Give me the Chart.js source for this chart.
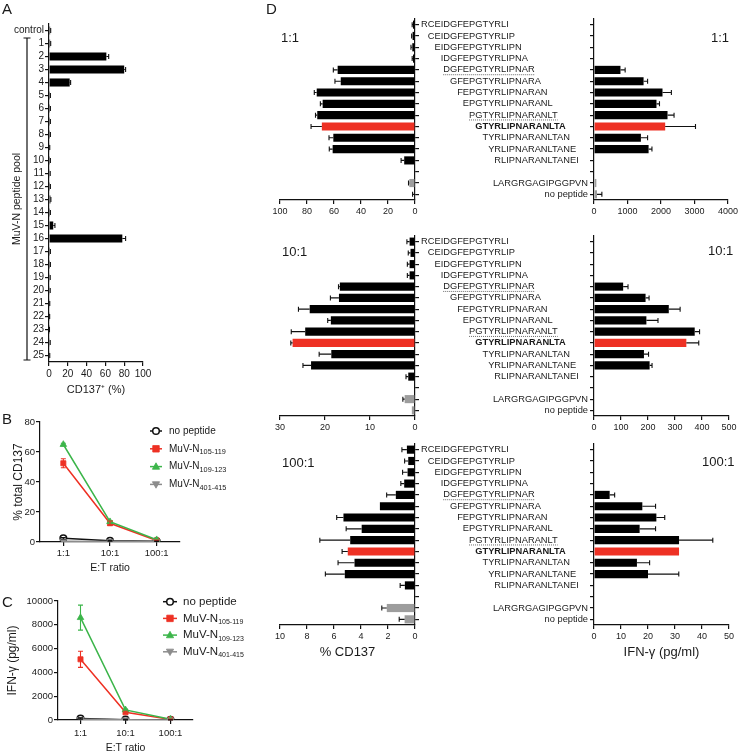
<!DOCTYPE html>
<html>
<head>
<meta charset="utf-8">
<title>MuV-N epitope mapping</title>
<script src="https://cdn.jsdelivr.net/npm/chart.js@4.4.1/dist/chart.umd.min.js"></script>
<style>
  body { margin: 0; background: #fff; }
  #page { position: relative; width: 740px; height: 754px; overflow: hidden; font-family: 'Liberation Sans', Arial, sans-serif; color: #1a1a1a; }
  #page canvas { position: absolute; }
  .tag { position: absolute; line-height: 1; white-space: nowrap; z-index: 2; }
  .panel { font-size: 15px; }
  .ratio { font-size: 13px; }
</style>
</head>
<body>
<div id="page">
  <canvas id="chartA" width="170" height="398" style="left:0;top:0"></canvas>
  <canvas id="chartB" width="250" height="160" style="left:0;top:414px"></canvas>
  <canvas id="chartC" width="250" height="162" style="left:0;top:592px"></canvas>
  <canvas id="d1Left" width="158" height="217" style="left:262px;top:5px"></canvas>
  <canvas id="d1Right" width="323" height="217" style="left:417px;top:5px"></canvas>
  <canvas id="d10Left" width="158" height="216" style="left:262px;top:222px"></canvas>
  <canvas id="d10Right" width="323" height="216" style="left:417px;top:222px"></canvas>
  <canvas id="d100Left" width="158" height="233" style="left:262px;top:430px"></canvas>
  <canvas id="d100Right" width="323" height="233" style="left:417px;top:430px"></canvas>

  <div class="tag panel" style="left:2px;top:1px">A</div>
  <div class="tag panel" style="left:2px;top:411px">B</div>
  <div class="tag panel" style="left:2px;top:594px">C</div>
  <div class="tag panel" style="left:266px;top:1px">D</div>
  <div class="tag ratio" style="left:281px;top:31px">1:1</div>
  <div class="tag ratio" style="left:711px;top:31px">1:1</div>
  <div class="tag ratio" style="left:282px;top:245px">10:1</div>
  <div class="tag ratio" style="left:708px;top:244px">10:1</div>
  <div class="tag ratio" style="left:282px;top:456px">100:1</div>
  <div class="tag ratio" style="left:702px;top:455px">100:1</div>
</div>

<script>
// ---- Panel A: peptide pools ----
const poolLabels = ['control', '1', '2', '3', '4', '5', '6', '7', '8', '9', '10', '11', '12', '13',
  '14', '15', '16', '17', '18', '19', '20', '21', '22', '23', '24', '25'];
const poolCD137 = [1.2, 1.2, 61, 80, 22, 1.0, 1.0, 1.0, 1.0, 0.5, 1.0, 0.8, 1.0, 1.5,
  1.0, 4.5, 78, 1.0, 1.0, 0.8, 0.8, 0.5, 0.4, 0.3, 0.8, 0.5];
const poolSem = [0.6, 0.6, 2.5, 1.5, 1.0, 0.5, 0.5, 0.5, 0.5, 0.3, 0.5, 0.5, 0.5, 0.5,
  0.5, 1.8, 3.5, 0.5, 0.5, 0.5, 0.5, 0.3, 0.3, 0.2, 0.5, 0.3];

// ---- Panels B and C: E:T titration ----
const etRatios = ['1:1', '10:1', '100:1'];
const seriesNames = ['no peptide', 'MuV-N', 'MuV-N', 'MuV-N'];
const seriesSubs = ['', '105-119', '109-123', '401-415'];

const cd137NoPep = [2.5, 0.8, 0.5];
const cd137NoPepSem = [0.5, 0.3, 0.2];
const cd137N105 = [52.5, 12.5, 1.0];
const cd137N105Sem = [3.0, 1.5, 0.3];
const cd137N109 = [65, 13.5, 1.5];
const cd137N109Sem = [0.8, 0.8, 0.3];
const cd137N401 = [0.5, 0.4, 0.3];

const ifnNoPep = [120, 30, 15];
const ifnNoPepSem = [60, 20, 10];
const ifnN105 = [5100, 650, 50];
const ifnN105Sem = [680, 80, 20];
const ifnN109 = [8600, 850, 60];
const ifnN109Sem = [1050, 60, 20];
const ifnN401 = [60, 20, 10];

// ---- Panel D: overlapping 15-mers ----
const fullSequence = 'RCEIDGFEPGTYRLIPNARANLTANEI';
const peptides = ['RCEIDGFEPGTYRLI', 'CEIDGFEPGTYRLIP', 'EIDGFEPGTYRLIPN', 'IDGFEPGTYRLIPNA',
  'DGFEPGTYRLIPNAR', 'GFEPGTYRLIPNARA', 'FEPGTYRLIPNARAN', 'EPGTYRLIPNARANL',
  'PGTYRLIPNARANLT', 'GTYRLIPNARANLTA', 'TYRLIPNARANLTAN', 'YRLIPNARANLTANE',
  'RLIPNARANLTANEI', '', 'LARGRGAGIPGGPVN', 'no peptide'];
const highlightPeptide = 'GTYRLIPNARANLTA';
const dottedPeptides = ['DGFEPGTYRLIPNAR', 'PGTYRLIPNARANLT'];
const controlPeptides = ['LARGRGAGIPGGPVN', 'no peptide'];

const cd137At1 = [1.5, 1.8, 2.0, 1.5, 57.3, 55, 72.8, 68.4, 72.4, 69, 60.5, 61, 8, null, 4.2, 0.4];
const cd137At1Sem = [0.6, 0.7, 1.0, 0.6, 3.2, 4.3, 1.8, 1.7, 1.3, 8, 3.2, 2.5, 2.3, null, 0.6, 1.4];
const ifnAt1 = [0, 0, 0, 0, 790, 1480, 2045, 1865, 2195, 2125, 1400, 1630, 0, null, 70, 90];
const ifnAt1Sem = [0, 0, 0, 0, 140, 120, 265, 90, 195, 905, 200, 100, 0, null, 0, 145];

const cd137At10 = [1.2, 1.0, 1.2, 1.2, 16.7, 16.9, 23.4, 18.7, 24.4, 27.2, 18.6, 23.1, 1.5, null, 2.3, 0.7];
const cd137At10Sem = [0.6, 0.5, 0.5, 0.5, 0.3, 1.9, 2.5, 0.7, 3.1, 0.4, 2.7, 1.8, 0.5, null, 0.4, 0];
const ifnAt10 = [0, 0, 0, 0, 108, 191, 277, 194, 373, 342, 185, 206, 0, null, 0, 0];
const ifnAt10Sem = [0, 0, 0, 0, 18, 13, 42, 43, 18, 46, 17, 9, 0, null, 0, 0];

const cd137At100 = [0.6, 0.5, 0.55, 0.8, 1.42, 2.6, 5.3, 3.95, 4.8, 4.98, 4.48, 5.2, 0.75, null, 2.09, 0.77];
const cd137At100Sem = [0.37, 0.27, 0.37, 0.25, 0.68, 0, 0.5, 1.15, 2.25, 0.42, 1.22, 1.44, 0.35, null, 0.37, 0.4];
const ifnAt100 = [0, 0, 0, 0, 5.8, 17.9, 23.1, 16.9, 31.5, 31.5, 15.9, 20, 0, null, 0, 0];
const ifnAt100Sem = [0, 0, 0, 0, 1.85, 4.9, 3.1, 5.9, 12.5, 0, 4.7, 11.4, 0, null, 0, 0];

// ---- styling ----
const FONT = "'Liberation Sans', Arial, sans-serif";
const INK = '#111';
const RED = '#ee3124';
const GREEN = '#3cb54a';
const GREY = '#8c8c8c';
const BAR_GREY = '#9d9d9d';

Chart.defaults.font.family = FONT;
Chart.defaults.color = '#1a1a1a';
Chart.defaults.animation = false;
Chart.defaults.plugins.legend.display = false;
Chart.defaults.plugins.tooltip.enabled = false;

function axis(o) {
  const a = {
    type: o.type || 'linear',
    border: { display: true, color: INK, width: 1.2 },
    grid: { drawOnChartArea: false, drawTicks: true, tickLength: 4, color: INK, lineWidth: 1.2, offset: false },
    ticks: {
      display: o.showTicks !== false,
      autoSkip: false,
      maxRotation: 0,
      padding: o.pad !== undefined ? o.pad : 2,
      font: { size: o.size || 10 },
      color: '#1a1a1a'
    },
    title: { display: false }
  };
  if (a.type === 'linear') {
    a.min = o.min;
    a.max = o.max;
    a.ticks.stepSize = o.step;
    a.ticks.format = { useGrouping: false };
  } else {
    a.offset = true;
  }
  if (o.position) a.position = o.position;
  if (o.reverse) a.reverse = true;
  if (o.title) {
    a.title = {
      display: true,
      text: o.title,
      font: { size: o.titleSize || 11 },
      color: '#1a1a1a',
      padding: o.titlePad || { top: 0, bottom: 0 }
    };
  }
  if (o.fit) a.afterFit = o.fit;
  return a;
}

// one-sided (bars) or two-sided (points) error bars, through the chart scales
const errorBars = {
  id: 'errorBars',
  afterDatasetsDraw(chart) {
    const ctx = chart.ctx;
    const horiz = chart.options.indexAxis === 'y';
    const vScale = horiz ? chart.scales.x : chart.scales.y;
    chart.data.datasets.forEach((ds, di) => {
      if (!ds.errors) return;
      const meta = chart.getDatasetMeta(di);
      ctx.save();
      ctx.strokeStyle = ds.errorColor || INK;
      ctx.lineWidth = 1.1;
      ds.errors.forEach((e, i) => {
        const v = ds.data[i];
        if (v == null || !e) return;
        const el = meta.data[i];
        const both = !!ds.errorBoth;
        const p1 = vScale.getPixelForValue(both ? v - e : v);
        const p2 = vScale.getPixelForValue(v + e);
        const cap = 2.5;
        ctx.beginPath();
        if (horiz) {
          ctx.moveTo(p1, el.y); ctx.lineTo(p2, el.y);
          ctx.moveTo(p2, el.y - cap); ctx.lineTo(p2, el.y + cap);
        } else {
          ctx.moveTo(el.x, p1); ctx.lineTo(el.x, p2);
          ctx.moveTo(el.x - cap, p2); ctx.lineTo(el.x + cap, p2);
          if (both) { ctx.moveTo(el.x - cap, p1); ctx.lineTo(el.x + cap, p1); }
        }
        ctx.stroke();
      });
      ctx.restore();
    });
  }
};

// bracket + rotated title for the pool axis of panel A
const poolBracket = {
  id: 'poolBracket',
  afterDraw(chart) {
    const { ctx, scales: { y } } = chart;
    const top = y.getPixelForValue(1) - 5.5;
    const bot = y.getPixelForValue(poolLabels.length - 1) + 4.5;
    const x = 27;
    ctx.save();
    ctx.strokeStyle = INK;
    ctx.lineWidth = 1.2;
    ctx.beginPath();
    ctx.moveTo(x, top); ctx.lineTo(x, bot);
    ctx.moveTo(x - 3.5, top); ctx.lineTo(x + 3.5, top);
    ctx.moveTo(x - 3.5, bot); ctx.lineTo(x + 3.5, bot);
    ctx.stroke();
    ctx.translate(17, (top + bot) / 2);
    ctx.rotate(-Math.PI / 2);
    ctx.font = `10.5px ${FONT}`;
    ctx.fillStyle = '#1a1a1a';
    ctx.textAlign = 'center';
    ctx.textBaseline = 'middle';
    ctx.fillText('MuV-N peptide pool', 0, 0);
    ctx.restore();
  }
};

// legend with subscripts, markers copied from the datasets
function drawMarker(ctx, style, x, y, r) {
  ctx.beginPath();
  if (style === 'circle') {
    ctx.arc(x, y, r, 0, Math.PI * 2);
  } else if (style === 'rect') {
    ctx.rect(x - r * 0.9, y - r * 0.9, r * 1.8, r * 1.8);
  } else if (style === 'triangle') {
    ctx.moveTo(x, y - r); ctx.lineTo(x + r * 0.95, y + r * 0.7); ctx.lineTo(x - r * 0.95, y + r * 0.7); ctx.closePath();
  } else {
    ctx.moveTo(x, y + r); ctx.lineTo(x + r * 0.95, y - r * 0.7); ctx.lineTo(x - r * 0.95, y - r * 0.7); ctx.closePath();
  }
  ctx.fill();
  ctx.stroke();
}

const subLegend = {
  id: 'subLegend',
  afterDraw(chart, args, opts) {
    const ctx = chart.ctx;
    ctx.save();
    opts.order.forEach((di, row) => {
      const ds = chart.data.datasets[di];
      const y = opts.y + row * opts.dy;
      ctx.strokeStyle = ds.borderColor;
      ctx.lineWidth = 1.5;
      ctx.beginPath();
      ctx.moveTo(opts.x, y); ctx.lineTo(opts.x + opts.len, y);
      ctx.stroke();
      ctx.fillStyle = ds.pointBackgroundColor;
      ctx.lineWidth = ds.pointBorderWidth;
      drawMarker(ctx, ds.legendMarker, opts.x + opts.len / 2, y, ds.pointRadius);
      ctx.fillStyle = '#1a1a1a';
      ctx.textBaseline = 'middle';
      ctx.textAlign = 'left';
      ctx.font = `${opts.size}px ${FONT}`;
      const tx = opts.x + opts.len + opts.gap;
      ctx.fillText(seriesNames[row], tx, y);
      if (seriesSubs[row]) {
        const w = ctx.measureText(seriesNames[row]).width;
        ctx.font = `${opts.subSize}px ${FONT}`;
        ctx.fillText(seriesSubs[row], tx + w, y + opts.size * 0.32);
      }
    });
    ctx.restore();
  }
};

// aligned peptide names between the two halves of panel D
const LABEL_X0 = 4;
const peptideLabels = {
  id: 'peptideLabels',
  afterDraw(chart) {
    const { ctx, chartArea, scales: { y } } = chart;
    const reg = `9.3px ${FONT}`;
    const bold = `bold 9.3px ${FONT}`;
    ctx.save();
    ctx.textBaseline = 'middle';
    ctx.fillStyle = '#1a1a1a';
    peptides.forEach((p, i) => {
      if (!p) return;
      const yy = y.getPixelForValue(i);
      ctx.font = reg;
      let x;
      if (controlPeptides.includes(p)) {
        ctx.textAlign = 'right';
        x = chartArea.left - 6;
      } else {
        ctx.textAlign = 'left';
        x = LABEL_X0 + ctx.measureText(fullSequence.slice(0, fullSequence.indexOf(p))).width;
      }
      if (p === highlightPeptide) ctx.font = bold;
      ctx.fillText(p, x, yy);
      if (dottedPeptides.includes(p)) {
        const w = ctx.measureText(p).width;
        ctx.strokeStyle = '#444';
        ctx.lineWidth = 0.8;
        ctx.setLineDash([1, 1]);
        ctx.beginPath();
        ctx.moveTo(x, yy + 4.8); ctx.lineTo(x + w, yy + 4.8);
        ctx.stroke();
        ctx.setLineDash([]);
      }
    });
    ctx.restore();
  }
};

function barColour(p) {
  if (p === highlightPeptide) return RED;
  if (controlPeptides.includes(p)) return BAR_GREY;
  return '#000';
}

// ---- Panel A ----
new Chart(document.getElementById('chartA'), {
  type: 'bar',
  data: {
    labels: poolLabels,
    datasets: [{ data: poolCD137, errors: poolSem, backgroundColor: '#000', barPercentage: 0.62, categoryPercentage: 1 }]
  },
  options: {
    indexAxis: 'y',
    responsive: false,
    layout: { padding: { top: 24, right: 27, left: 0, bottom: 0 } },
    scales: {
      x: axis({ min: 0, max: 100, step: 20, size: 10, title: 'CD137\u207A (%)', titleSize: 11,
        titlePad: { top: 0, bottom: 1.5 }, fit: s => { s.height = 36; } }),
      y: axis({ type: 'category', size: 10, pad: 1, fit: s => { s.width = 49; } })
    }
  },
  plugins: [errorBars, poolBracket]
});

// ---- Panels B and C ----
function titrationChart(id, sets, yMax, yStep, yTitle, yTitlePad, yWidth, pad, xHeight, xPad, legend) {
  const styles = [
    { color: INK, fill: '#fff', marker: 'circle', pointStyle: 'circle', rot: 0, r: 3.3 },
    { color: RED, fill: RED, marker: 'rect', pointStyle: 'rect', rot: 0, r: 3.6 },
    { color: GREEN, fill: GREEN, marker: 'triangle', pointStyle: 'triangle', rot: 0, r: 3.8 },
    { color: GREY, fill: GREY, marker: 'down', pointStyle: 'triangle', rot: 180, r: 3.8 }
  ];
  const datasets = sets.map((s, k) => ({
    data: s.values,
    errors: s.sem,
    errorBoth: true,
    errorColor: styles[k].color,
    borderColor: styles[k].color,
    borderWidth: 1.5,
    pointBackgroundColor: styles[k].fill,
    pointBorderColor: styles[k].color,
    pointBorderWidth: k === 0 ? 1.5 : 0.8,
    pointStyle: styles[k].pointStyle,
    pointRotation: styles[k].rot,
    pointRadius: styles[k].r,
    legendMarker: styles[k].marker,
    tension: 0
  }));
  // grey drawn first, black last; legend keeps the original order
  const drawOrder = [3, 2, 1, 0];
  return new Chart(document.getElementById(id), {
    type: 'line',
    data: { labels: etRatios, datasets: drawOrder.map(k => datasets[k]) },
    options: {
      responsive: false,
      layout: { padding: pad },
      scales: {
        x: axis({ type: 'category', size: 9.5, pad: xPad, title: 'E:T ratio', titleSize: 10.5,
          titlePad: { top: 0, bottom: 0 }, fit: s => { s.height = xHeight; } }),
        y: axis({ min: 0, max: yMax, step: yStep, size: 9.5, pad: 1, title: yTitle, titleSize: 12,
          titlePad: yTitlePad, fit: s => { s.width = yWidth; } })
      },
      plugins: { subLegend: Object.assign({ order: [3, 2, 1, 0] }, legend) }
    },
    plugins: [errorBars, subLegend]
  });
}

titrationChart('chartB', [
  { values: cd137NoPep, sem: cd137NoPepSem },
  { values: cd137N105, sem: cd137N105Sem },
  { values: cd137N109, sem: cd137N109Sem },
  { values: cd137N401, sem: null }
], 80, 20, '% total CD137', { top: 11, bottom: 0 }, 40, { top: 8, right: 70 }, 32, 2,
  { x: 150, y: 17, dy: 17.8, len: 12, gap: 7, size: 10, subSize: 7.3 });

titrationChart('chartC', [
  { values: ifnNoPep, sem: ifnNoPepSem },
  { values: ifnN105, sem: ifnN105Sem },
  { values: ifnN109, sem: ifnN109Sem },
  { values: ifnN401, sem: null }
], 10000, 2000, 'IFN-\u03B3 (pg/ml)', { top: 5, bottom: 0 }, 58, { top: 9, right: 57 }, 34, 4,
  { x: 163, y: 9.7, dy: 16.7, len: 14, gap: 6, size: 11.5, subSize: 7 });

// ---- Panel D ----
function peptideChart(id, values, sem, xMax, xStep, side, title, xHeight) {
  const left = side === 'left';
  return new Chart(document.getElementById(id), {
    type: 'bar',
    data: {
      labels: peptides,
      datasets: [{
        data: values,
        errors: sem,
        backgroundColor: peptides.map(barColour),
        barPercentage: 0.72,
        categoryPercentage: 1
      }]
    },
    options: {
      indexAxis: 'y',
      responsive: false,
      layout: { padding: left ? { left: 18, top: 14, right: 0, bottom: 0 } : { left: 0, top: 14, right: 11, bottom: 0 } },
      scales: {
        x: axis({ min: 0, max: xMax, step: xStep, reverse: left, size: 9, pad: 2, title: title, titleSize: 13,
          titlePad: { top: 0, bottom: 3 }, fit: s => { s.height = xHeight; } }),
        y: axis({ type: 'category', position: left ? 'right' : 'left', showTicks: false,
          fit: s => { s.width = left ? 5 : 177; } })
      }
    },
    plugins: left ? [errorBars] : [errorBars, peptideLabels]
  });
}

peptideChart('d1Left', cd137At1, cd137At1Sem, 100, 20, 'left', null, 22);
peptideChart('d1Right', ifnAt1, ifnAt1Sem, 4000, 1000, 'right', null, 22);
peptideChart('d10Left', cd137At10, cd137At10Sem, 30, 10, 'left', null, 22);
peptideChart('d10Right', ifnAt10, ifnAt10Sem, 500, 100, 'right', null, 22);
peptideChart('d100Left', cd137At100, cd137At100Sem, 10, 2, 'left', '% CD137', 38);
peptideChart('d100Right', ifnAt100, ifnAt100Sem, 50, 10, 'right', 'IFN-\u03B3 (pg/ml)', 38);
</script>
</body>
</html>
